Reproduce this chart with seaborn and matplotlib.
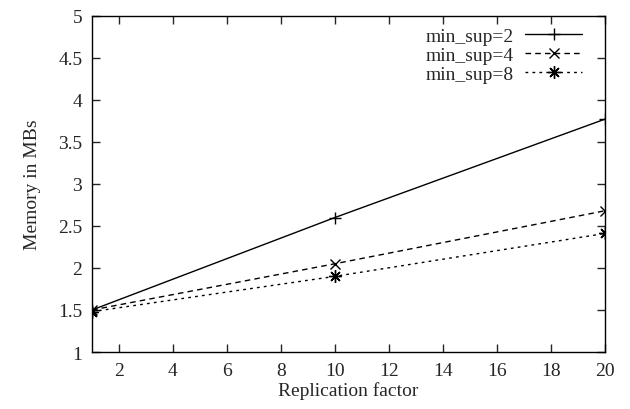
import matplotlib
matplotlib.use("Agg")
import matplotlib.pyplot as plt
import pandas as pd
import seaborn as sns

replication = [1, 10, 20]
sup2 = [1.50, 2.60, 3.77]
sup4 = [1.50, 2.05, 2.68]
sup8 = [1.48, 1.90, 2.41]
labels = ["min_sup=2", "min_sup=4", "min_sup=8"]

sns.set_style("ticks")
plt.rcParams["font.family"] = ["Liberation Serif", "DejaVu Serif"]
plt.rcParams["font.size"] = 14

fig = plt.figure(figsize=(6.3, 4.1), dpi=100)
ax = fig.add_axes([0.146, 0.139, 0.814, 0.82])

styles = [("-", "+", 8), ((0, (4, 3)), "x", 7), ((0, (2, 3)), (8, 2, 0), 9)]
for vals, label, (ls, mk, ms) in zip([sup2, sup4, sup8], labels, styles):
    df = pd.DataFrame({"x": replication, "y": vals})
    sns.lineplot(
        data=df, x="x", y="y", ax=ax, color="black", linestyle=ls,
        linewidth=1, marker=mk, markersize=ms, markeredgewidth=1,
        markeredgecolor="black", label=label,
    )

ax.set_xlim(1, 20)
ax.set_ylim(1, 5)
ax.set_xticks(range(2, 21, 2))
ax.set_yticks([1, 1.5, 2, 2.5, 3, 3.5, 4, 4.5, 5])
ax.set_yticklabels(["1", "1.5", "2", "2.5", "3", "3.5", "4", "4.5", "5"])
ax.tick_params(direction="in", top=True, right=True, length=6, width=1,
               labelsize=14)
ax.tick_params(axis="x", pad=7)
ax.tick_params(axis="y", pad=7)
for s in ax.spines.values():
    s.set_linewidth(1)
    s.set_color("black")
ax.set_xlabel("Replication factor", fontsize=14, labelpad=2)
ax.set_ylabel("Memory in MBs", fontsize=14, labelpad=12)
ax.legend(loc="upper right", bbox_to_anchor=(0.955, 0.966), frameon=False,
          markerfirst=False, handlelength=2.9, handletextpad=0.6,
          fontsize=14, labelspacing=0.08, borderaxespad=0, borderpad=0)

fig.savefig("out.png", dpi=100)
